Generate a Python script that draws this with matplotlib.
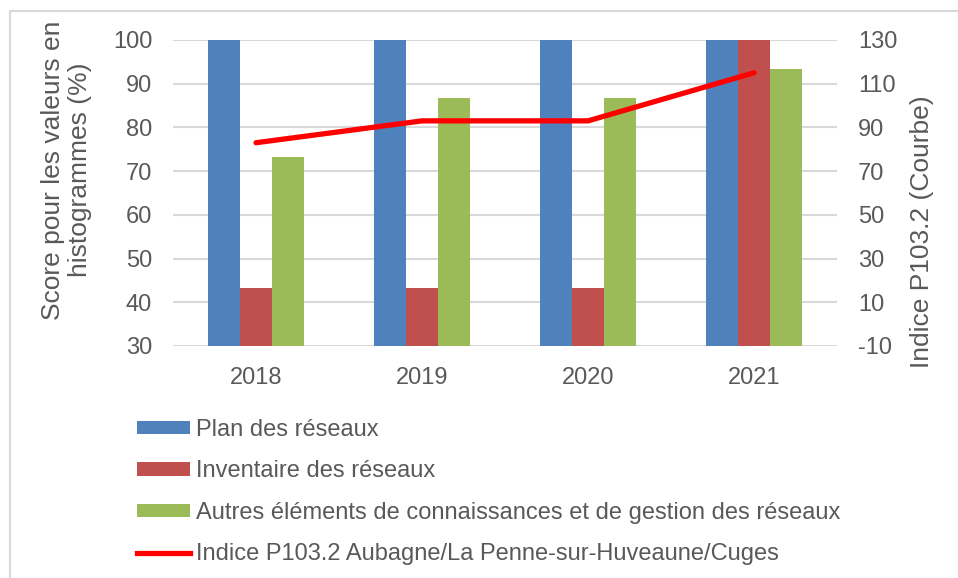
import numpy as np
import matplotlib
matplotlib.use("Agg")
import matplotlib.pyplot as plt
from matplotlib.patches import Rectangle, Patch
from matplotlib.lines import Line2D

plt.rcParams['font.family'] = ['Liberation Sans', 'DejaVu Sans']
plt.rcParams['axes.unicode_minus'] = False

# data
years = ["2018", "2019", "2020", "2021"]
plan = [100, 100, 100, 100]
inventaire = [43.3, 43.3, 43.3, 100]
autres = [73.3, 86.7, 86.7, 93.3]
indice = [83, 93, 93, 115]

labels = [
    "Plan des réseaux",
    "Inventaire des réseaux",
    "Autres éléments de connaissances et de gestion des réseaux",
    "Indice P103.2 Aubagne/La Penne-sur-Huveaune/Cuges",
]
colors = ["#4F81BD", "#C0504D", "#9BBB59"]
line_color = "#FF0000"
text_color = "#595959"
grid_color = "#D9D9D9"
fs = 17
fs_title = 19

fig = plt.figure(figsize=(9.58, 5.78), dpi=100)
ax = fig.add_axes([0.1806, 0.4014, 0.6931, 0.5294])

x = np.arange(len(years))
w = 0.193
for i, (vals, c) in enumerate(zip([plan, inventaire, autres], colors)):
    ax.bar(x + (i - 1) * w, vals, width=w, color=c, zorder=2)

ax.set_ylim(30, 100)
ax.set_yticks(np.arange(30, 101, 10))
ax.set_xlim(-0.5, len(years) - 0.5)
ax.set_xticks(x)
ax.set_xticklabels(years)
ax.yaxis.grid(True, color=grid_color, linewidth=1.5, zorder=0)
ax.set_axisbelow(True)
for s in ax.spines.values():
    s.set_visible(False)
ax.tick_params(length=0, labelsize=fs, colors=text_color, pad=15)
ax.set_ylabel("Score pour les valeurs en\nhistogrammes (%)", fontsize=fs_title,
              color=text_color, linespacing=1.14)
ax.yaxis.set_label_coords(-0.122, 0.575)

ax2 = ax.twinx()
ax2.plot(x, indice, color=line_color, linewidth=3.8, solid_capstyle='round', zorder=3)
ax2.set_ylim(-10, 130)
ax2.set_yticks(np.arange(-10, 131, 20))
for s in ax2.spines.values():
    s.set_visible(False)
ax2.tick_params(length=0, labelsize=fs, colors=text_color, pad=15)
ax2.set_ylabel("Indice P103.2 (Courbe)", fontsize=fs_title, color=text_color)
ax2.yaxis.set_label_coords(1.11, 0.373)

handles = [Patch(facecolor=c) for c in colors]
handles.append(Line2D([0], [0], color=line_color, linewidth=3.8))
leg = fig.legend(handles, labels, loc="upper left", bbox_to_anchor=(0.143, 0.275),
                 frameon=False, fontsize=fs, handlelength=2.25, handleheight=0.5,
                 handletextpad=0.25, labelspacing=0.82, borderpad=0, borderaxespad=0)
for t in leg.get_texts():
    t.set_color(text_color)

# chart border
fig.patches.append(Rectangle((10 / 958, -0.1), 1.2, 1 - 11 / 578 + 0.1,
                             transform=fig.transFigure, fill=False,
                             edgecolor=grid_color, linewidth=1.5))

fig.savefig("out.png", dpi=100)
